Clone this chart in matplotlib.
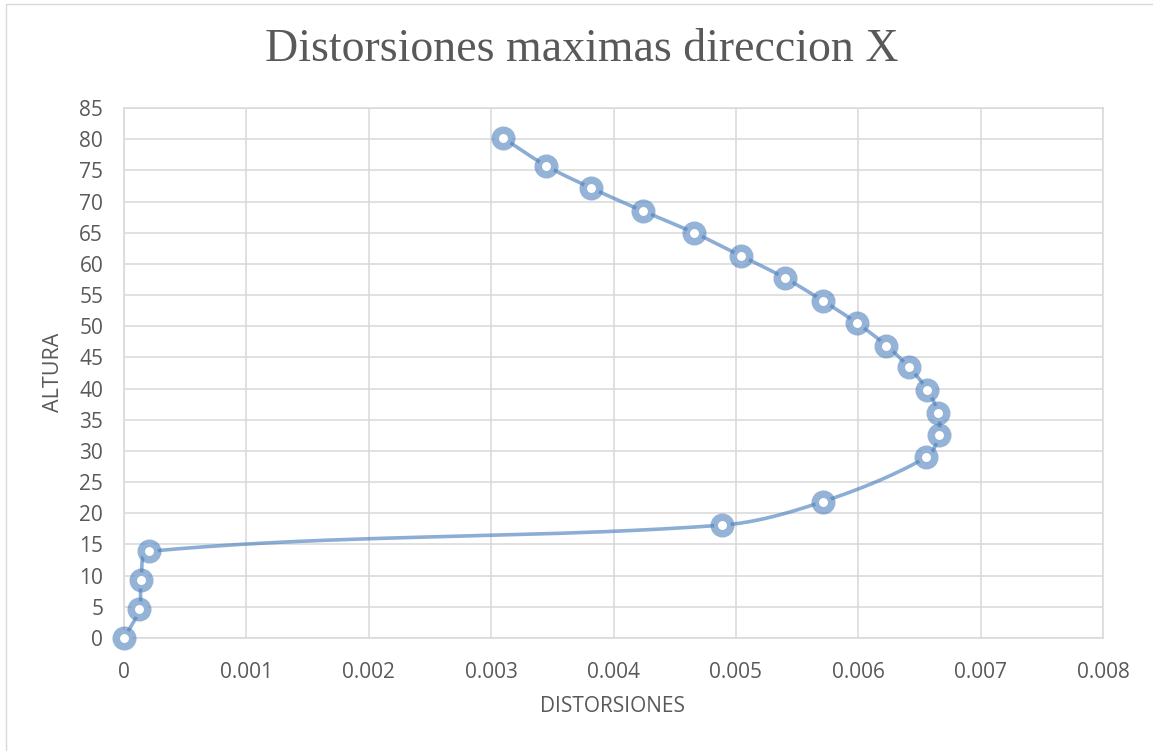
import numpy as np
import matplotlib
matplotlib.use("Agg")
import matplotlib.pyplot as plt
from matplotlib.patches import Rectangle

# distorsion de entrepiso (x) contra altura del nivel (y)
distorsiones = [0.0, 0.000125, 0.000139, 0.000206, 0.004888, 0.005708,
                0.006557, 0.006657, 0.006652, 0.006562, 0.006415, 0.00623,
                0.00599, 0.005713, 0.0054, 0.00504, 0.004657, 0.004237,
                0.00382, 0.003448, 0.003099]
alturas = [0.0, 4.6, 9.35, 13.9, 18.1, 21.85, 29.0, 32.5, 36.05, 39.85,
           43.4, 46.9, 50.5, 54.05, 57.75, 61.3, 65.0, 68.5, 72.15, 75.75,
           80.2]

x_ticks = [0, 0.001, 0.002, 0.003, 0.004, 0.005, 0.006, 0.007, 0.008]
x_tick_labels = ["0", "0.001", "0.002", "0.003", "0.004", "0.005", "0.006",
                 "0.007", "0.008"]
y_ticks = list(range(0, 90, 5))

titulo = "Distorsiones maximas direccion X"
x_label = "DISTORSIONES"
y_label = "ALTURA"

W, H = 1153, 751
GRAY = "#595959"
GRID = "#D9D9D9"
BLUE = "#4F81BD"

fig = plt.figure(figsize=(W / 100, H / 100), dpi=100)
fig.patch.set_facecolor("white")
fig.patches.append(Rectangle((6 / W, -0.1), 1.2, 1 - 4 / H + 0.1,
                             transform=fig.transFigure, fill=False,
                             edgecolor=GRID, lw=1.0))

ax = fig.add_axes([124 / W, 1 - 638 / H, (1103 - 124) / W, (638 - 108) / H])
ax.set_xlim(0, 0.008)
ax.set_ylim(0, 85)
ax.set_xticks(x_ticks)
ax.set_xticklabels(x_tick_labels)
ax.set_yticks(y_ticks)
ax.grid(True, color=GRID, lw=1.1)
ax.set_axisbelow(True)
for s in ax.spines.values():
    s.set_color(GRID)
    s.set_linewidth(1.1)
ax.tick_params(length=0, labelsize=15, labelcolor=GRAY)
ax.tick_params(axis="x", pad=17)
ax.tick_params(axis="y", pad=15)
for lab in ax.get_xticklabels() + ax.get_yticklabels():
    lab.set_fontfamily("Open Sans")


def suavizar(xs, ys, n=40):
    # bezier en pixeles; las asas se escalan con el largo de cada tramo
    pts = ax.transData.transform(np.column_stack([xs, ys]))
    ext = np.vstack([pts[0], pts, pts[-1]])
    tang = ext[2:] - ext[:-2]
    tang = tang / np.maximum(np.linalg.norm(tang, axis=1, keepdims=True), 1e-9)
    out = [pts[0]]
    t = np.linspace(0, 1, n)[1:, None]
    for i in range(len(pts) - 1):
        p0, p3 = pts[i], pts[i + 1]
        L = np.linalg.norm(p3 - p0) / 3
        c1 = p0 + tang[i] * L
        c2 = p3 - tang[i + 1] * L
        seg = ((1 - t) ** 3) * p0 + 3 * ((1 - t) ** 2) * t * c1 \
            + 3 * (1 - t) * t ** 2 * c2 + t ** 3 * p3
        out.extend(seg)
    return ax.transData.inverted().transform(np.array(out))


curva = suavizar(distorsiones, alturas)
ax.plot(curva[:, 0], curva[:, 1], color=BLUE, alpha=0.65, lw=2.6,
        solid_capstyle="round", clip_on=False, zorder=3)
ax.plot(distorsiones, alturas, ls="none", marker="o", ms=11.9, mew=5.4,
        mfc="white", mec=(0.31, 0.506, 0.741, 0.6), clip_on=False, zorder=4)

fig.text(582 / W, 1 - 50 / H, titulo, ha="center", va="center",
         fontsize=33, color=GRAY, family="Liberation Serif")
fig.text(612 / W, 1 - 706 / H, x_label, ha="center", va="center",
         fontsize=15, color=GRAY, family="Open Sans")
fig.text(54 / W, 1 - 372 / H, y_label, ha="center", va="center",
         rotation=90, fontsize=15.5, color=GRAY, family="Open Sans")

fig.savefig("out.png", dpi=100)
